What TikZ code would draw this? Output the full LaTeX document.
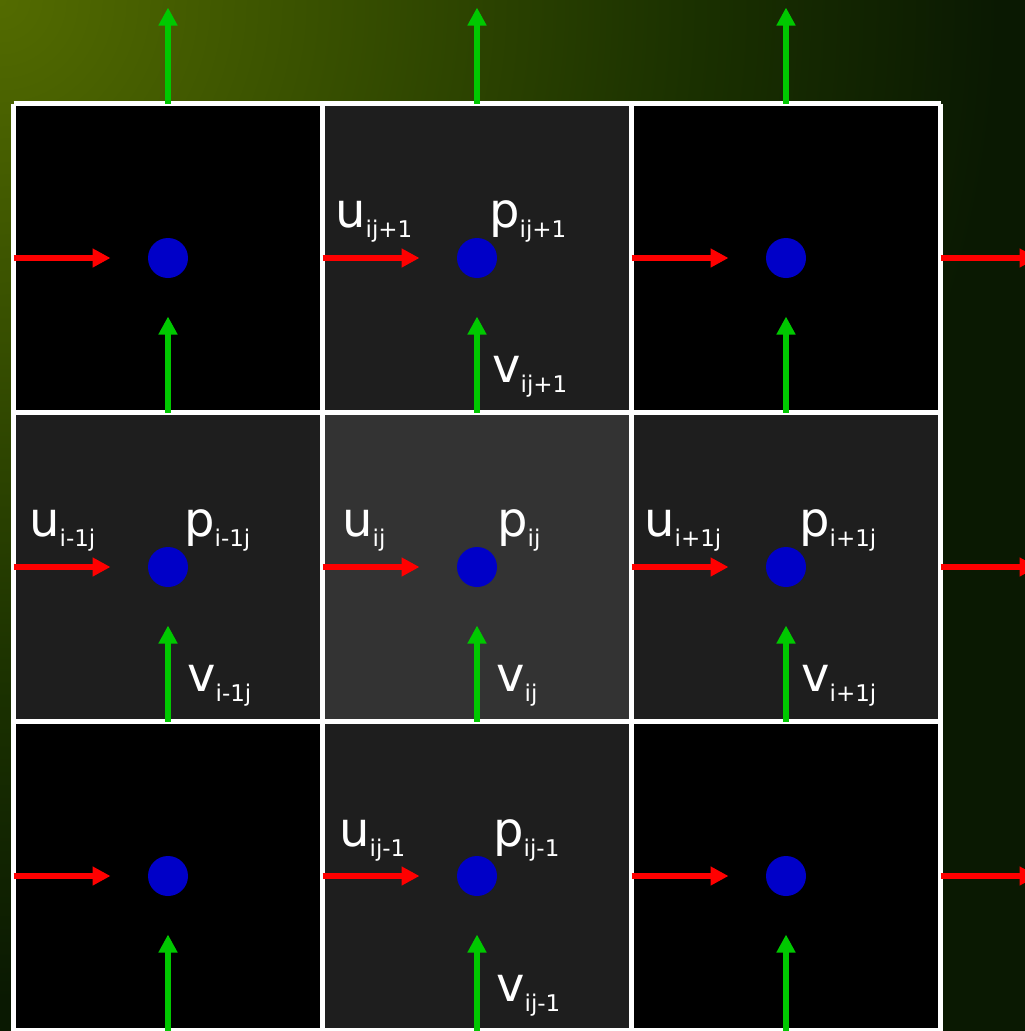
\documentclass[tikz,border=0pt]{standalone}
\usepackage{fontspec}
\setmainfont{DejaVu Sans}
\usetikzlibrary{arrows.meta}
\definecolor{bgdark}{HTML}{0A1902}
\definecolor{bgmidA}{HTML}{3A5200}
\definecolor{bgmidB}{HTML}{1A3000}
\definecolor{bgolive}{HTML}{536B00}
\definecolor{cellmid}{HTML}{333333}
\definecolor{celledge}{HTML}{1E1E1E}
\definecolor{ured}{HTML}{FF0000}
\definecolor{vgreen}{HTML}{00C800}
\definecolor{pblue}{HTML}{0000C8}
\pgfdeclareradialshading{bgshade}{\pgfpoint{0bp}{0bp}}{color(0bp)=(bgolive); color(7.5bp)=(bgmidA); color(17.5bp)=(bgmidB); color(25bp)=(bgdark); color(50bp)=(bgdark)}
\newcommand\lblsub[2]{#1\raisebox{-10pt}{\fontsize{23}{23}\selectfont #2}}
\tikzset{
  gridline/.style={draw=white,line width=5pt},
  pdot/.style={circle,fill=pblue,minimum size=40pt,inner sep=0pt},
  uarrow/.style={draw=ured,line width=6pt,-{Triangle[length=18pt,width=18pt]}},
  varrow/.style={draw=vgreen,line width=6pt,-{Triangle[length=18pt,width=18pt]}},
  lbl/.style={anchor=base west,inner sep=0pt,text=white,font=\fontsize{48}{48}\selectfont},
}
\begin{document}
\begin{tikzpicture}[x=1pt,y=-1pt]
\useasboundingbox (0,0) rectangle (1025,1031);
\clip (0,0) rectangle (1025,1031);
\fill[bgdark] (0,0) rectangle (1025,1031);
\shade[shading=bgshade] (-1000,-1000) rectangle (1000,1000);
% cells
\foreach \c in {0,1,2}{
  \foreach \r in {0,1,2}{
    \pgfmathsetmacro\xl{13.5+309*\c}
    \pgfmathsetmacro\yt{103.5+309*\r}
    \pgfmathtruncatemacro\s{abs(\c-1)+abs(\r-1)}
    \ifnum\s=0 \def\cc{cellmid}\else\ifnum\s=1 \def\cc{celledge}\else\def\cc{black}\fi\fi
    \fill[\cc] (\xl,\yt) rectangle ++(309,309);
  }
}
% grid lines
\foreach \k in {0,1,2,3}{
  \draw[gridline] (13.5+309*\k,103.5) -- (13.5+309*\k,1040);
  \draw[gridline] (13.5,103.5+309*\k) -- (940.5,103.5+309*\k);
}
% u arrows (red, horizontal)
\foreach \r in {0,1,2}{
  \foreach \k in {0,1,2,3}{
    \coordinate (uS\k\r) at (13.5+309*\k,258+309*\r);
    \coordinate (uE\k\r) at (110.5+309*\k,258+309*\r);
    \draw[uarrow] (uS\k\r) -- (uE\k\r);
  }
}
% v arrows (green, vertical)
\foreach \c in {0,1,2}{
  \foreach \k in {0,1,2,3}{
    \coordinate (vS\c\k) at (168+309*\c,1030.5-309*\k);
    \coordinate (vE\c\k) at (168+309*\c,934.5-309*\k);
    \draw[varrow] (vS\c\k) -- (vE\c\k);
  }
}
% pressure dots
\foreach \c in {0,1,2}{
  \foreach \r in {0,1,2}{
    \node[pdot] (p\c\r) at (168+309*\c,258+309*\r) {};
  }
}
% labels
\node[lbl] (lu1) at (335,227) {\lblsub{u}{ij+1}};
\node[lbl] (lp1) at (489,227) {\lblsub{p}{ij+1}};
\node[lbl] (lv1) at (492,382) {\lblsub{v}{ij+1}};
\node[lbl] (lu2) at (29,536) {\lblsub{u}{i-1j}};
\node[lbl] (lp2) at (184,536) {\lblsub{p}{i-1j}};
\node[lbl] (lv2) at (187,691) {\lblsub{v}{i-1j}};
\node[lbl] (lu3) at (342,536) {\lblsub{u}{ij}};
\node[lbl] (lp3) at (497,536) {\lblsub{p}{ij}};
\node[lbl] (lv3) at (496,691) {\lblsub{v}{ij}};
\node[lbl] (lu4) at (644,536) {\lblsub{u}{i+1j}};
\node[lbl] (lp4) at (799,536) {\lblsub{p}{i+1j}};
\node[lbl] (lv4) at (801,691) {\lblsub{v}{i+1j}};
\node[lbl] (lu5) at (339,846) {\lblsub{u}{ij-1}};
\node[lbl] (lp5) at (493,846) {\lblsub{p}{ij-1}};
\node[lbl] (lv5) at (496,1001) {\lblsub{v}{ij-1}};
\end{tikzpicture}
\end{document}
